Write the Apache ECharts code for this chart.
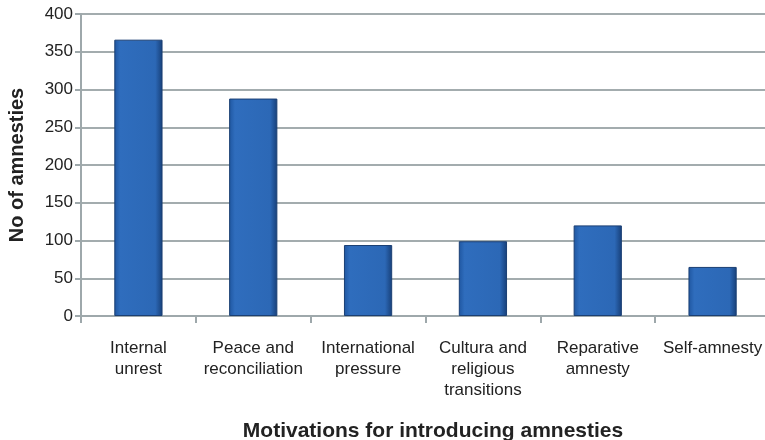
<!DOCTYPE html>
<html>
<head>
<meta charset="utf-8">
<script src="https://cdn.jsdelivr.net/npm/echarts@6/dist/echarts.min.js"></script>
<style>
  html, body { margin: 0; padding: 0; background: #fff; }
  #chart { width: 765px; height: 440px; }
</style>
</head>
<body>
<div id="chart"></div>
<script>
// Amnesties grouped by the motivation for introducing them
const categories = [
  'Internal\nunrest',
  'Peace and\nreconciliation',
  'International\npressure',
  'Cultura and\nreligious\ntransitions',
  'Reparative\namnesty',
  'Self-amnesty'
];
const amnesties = [366, 288, 94, 99, 120, 65];
const yTicks = { min: 0, max: 400, interval: 50 };

const chart = echarts.init(document.getElementById('chart'));
const font = 'Liberation Sans, Arial, Helvetica, sans-serif';

chart.setOption({
  animation: false,
  grid: {
    left: 81, top: 14, width: 689, height: 302,
    containLabel: false,
    outerBoundsMode: 'none'
  },
  xAxis: {
    type: 'category',
    data: categories,
    name: 'Motivations for introducing amnesties',
    nameLocation: 'middle',
    nameGap: 105,
    nameTextStyle: {
      fontFamily: font, fontSize: 21, fontWeight: 'bold', color: '#222',
      padding: [0, 0, 0, 15]
    },
    axisLine: { lineStyle: { color: '#9ea8ab', width: 2 } },
    axisTick: { show: true, length: 7, lineStyle: { color: '#9ea8ab', width: 2 } },
    axisLabel: { fontFamily: font, fontSize: 17, color: '#222', margin: 22, lineHeight: 21, interval: 0 }
  },
  yAxis: {
    type: 'value',
    min: yTicks.min,
    max: yTicks.max,
    interval: yTicks.interval,
    name: 'No of amnesties',
    nameLocation: 'middle',
    nameGap: 54,
    nameTextStyle: { fontFamily: font, fontSize: 20, fontWeight: 'bold', color: '#222' },
    axisLine: { show: true, lineStyle: { color: '#9ea8ab', width: 2 } },
    axisTick: { show: true, length: 6, lineStyle: { color: '#9ea8ab', width: 2 } },
    axisLabel: { fontFamily: font, fontSize: 17, color: '#222', margin: 8 },
    splitLine: { lineStyle: { color: '#a3acae', width: 2 } }
  },
  series: [{
    type: 'bar',
    data: amnesties,
    barWidth: '42%',
    itemStyle: {
      borderColor: '#1b3f73',
      borderWidth: 1,
      color: {
        type: 'linear', x: 0, y: 0, x2: 1, y2: 0,
        colorStops: [
          { offset: 0, color: '#1f56a0' },
          { offset: 0.12, color: '#2f6dbd' },
          { offset: 0.85, color: '#2c68b6' },
          { offset: 1, color: '#173f78' }
        ]
      }
    }
  }]
});
</script>
</body>
</html>
